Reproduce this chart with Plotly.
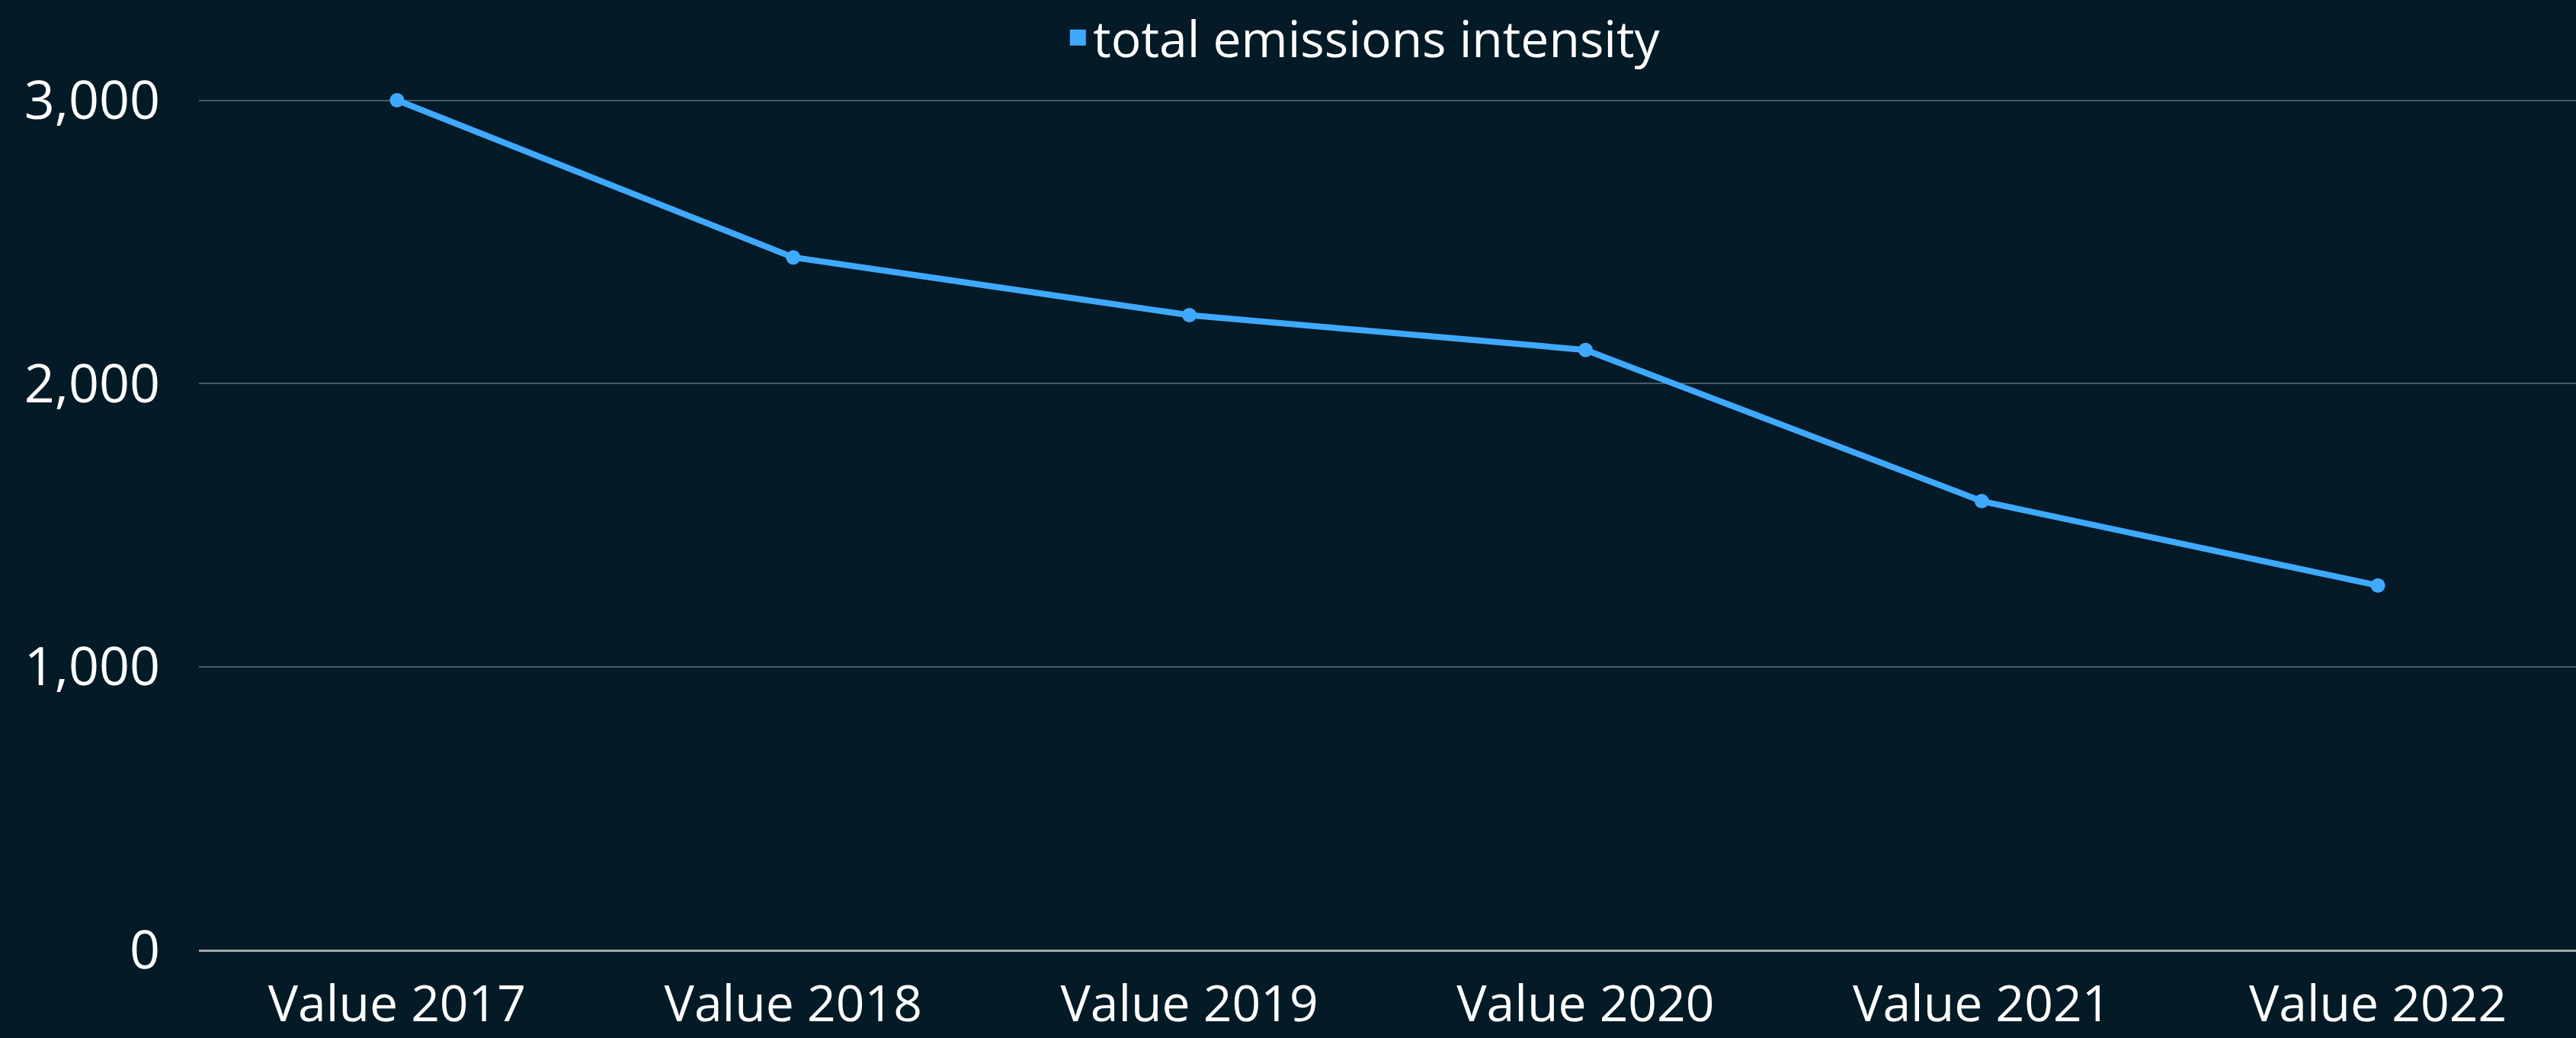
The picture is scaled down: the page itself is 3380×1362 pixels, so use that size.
import plotly.graph_objects as go

categories = ["Value 2017", "Value 2018", "Value 2019", "Value 2020", "Value 2021", "Value 2022"]
values = [3000, 2445, 2241, 2118, 1584, 1286]
series_name = "total emissions intensity"
y_tickvals = [0, 1000, 2000, 3000]
y_ticktext = ["0", "1,000", "2,000", "3,000"]

BG = "#041a26"
LINE = "#3fa9ff"
FONT = "Open Sans"

fig = go.Figure()
fig.add_trace(go.Scatter(
    x=categories, y=values, mode="lines+markers",
    line=dict(color=LINE, width=8),
    marker=dict(color=LINE, size=19),
    showlegend=False, name=series_name,
))
# legend entry (square swatch)
fig.add_trace(go.Scatter(
    x=[None], y=[None], mode="markers",
    marker=dict(color=LINE, symbol="square", size=24, line=dict(color=LINE, width=5)),
    name=series_name, showlegend=True,
))

fig.update_layout(
    width=3380, height=1362,
    paper_bgcolor=BG, plot_bgcolor=BG,
    margin=dict(l=261, r=0, t=100, b=116, pad=0, autoexpand=False),
    font=dict(family=FONT, color="#ffffff", size=66),
    showlegend=True,
    legend=dict(orientation="h", x=0.49, xanchor="center", y=1.0873, yanchor="top",
                font=dict(size=66, color="#ffffff"), bgcolor="rgba(0,0,0,0)",
                borderwidth=0, itemwidth=30, tracegroupgap=0),
    xaxis=dict(
        type="category", range=[-0.5, 5.5],
        showgrid=False, showline=True, linecolor="#a3a8ab", linewidth=3,
        ticks="", tickfont=dict(size=66, color="#ffffff", family=FONT),
        ticklabelstandoff=12, zeroline=False,
    ),
    yaxis=dict(
        range=[0, 3084.8], tickvals=y_tickvals, ticktext=y_ticktext,
        showgrid=True, gridcolor="#4a5962", gridwidth=2,
        zeroline=False, showline=False, ticks="",
        tickfont=dict(size=70, color="#ffffff", family=FONT),
        ticklabelstandoff=50,
    ),
)

fig.write_html(
    "out.html",
    config={"displayModeBar": False},
    post_script="document.body.style.margin='0';document.body.style.background='#041a26';document.documentElement.style.background='#041a26';",
)
